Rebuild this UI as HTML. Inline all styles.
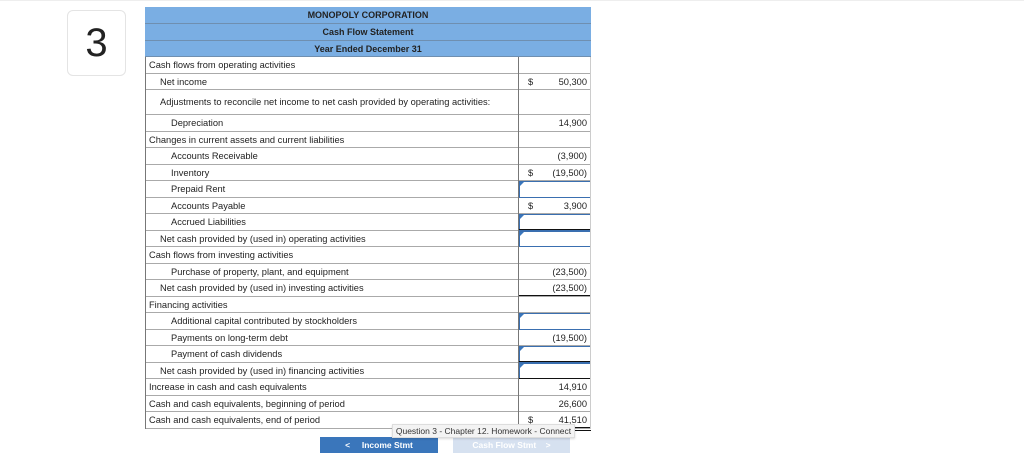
<!DOCTYPE html>
<html><head><meta charset="utf-8"><style>
body{margin:0;width:1024px;height:455px;background:#fff;font-family:"Liberation Sans",Arial,sans-serif;position:relative;overflow:hidden}
.a{position:absolute;box-sizing:border-box}
.t{font-size:9.5px;color:#222;white-space:nowrap}
</style></head><body>
<div class="a" style="left:0;top:0;width:1024px;height:1px;background:#eee"></div>
<div class="a" style="left:67px;top:10px;width:59px;height:66px;border:1px solid #e4e4e4;border-radius:6px;font-size:40px;color:#222;text-align:center;line-height:64px">3</div>
<div id="tbl" class="a" style="left:145px;top:7px;width:446px;height:421px"></div>
<div class="a t" style="left:392px;top:424px;width:183px;height:14px;background:#f3f3f3;border:1px solid #ddd;box-shadow:0 1px 2px rgba(0,0,0,0.15);font-size:8.5px;line-height:12px;text-align:center;color:#333;z-index:5">Question 3 - Chapter 12. Homework - Connect</div>
<div class="a" style="left:320px;top:437px;width:118px;height:16px;background:#3a76bb;color:#fff;font-size:8.5px;font-weight:bold;line-height:16px;text-align:center">&lt;&nbsp;&nbsp;&nbsp;&nbsp; Income Stmt</div>
<div class="a" style="left:453px;top:437px;width:117px;height:16px;background:#d6e1f0;color:#fff;font-size:8.5px;font-weight:bold;line-height:16px;text-align:center">Cash Flow Stmt &nbsp;&nbsp;&nbsp;&gt;</div>
<script>
const headers=["MONOPOLY CORPORATION","Cash Flow Statement","Year Ended December 31"];
const labels=["Cash flows from operating activities","Net income","Adjustments to reconcile net income to net cash provided by operating activities:","Depreciation","Changes in current assets and current liabilities","Accounts Receivable","Inventory","Prepaid Rent","Accounts Payable","Accrued Liabilities","Net cash provided by (used in) operating activities","Cash flows from investing activities","Purchase of property, plant, and equipment","Net cash provided by (used in) investing activities","Financing activities","Additional capital contributed by stockholders","Payments on long-term debt","Payment of cash dividends","Net cash provided by (used in) financing activities","Increase in cash and cash equivalents","Cash and cash equivalents, beginning of period","Cash and cash equivalents, end of period"];
const levels=[0,1,1,2,0,2,2,2,2,2,1,0,2,1,0,2,2,2,1,0,0,0];
const amounts=["","50,300","","14,900","","(3,900)","(19,500)","","3,900","","","","(23,500)","(23,500)","","","(19,500)","","","14,910","26,600","41,510"];
const dollars=[0,1,0,0,0,0,1,0,1,0,0,0,0,0,0,0,0,0,0,0,0,1];
const inputs=[0,0,0,0,0,0,0,1,0,1,1,0,0,0,0,1,0,1,1,0,0,0];
const rulesBelow=[0,0,0,0,0,0,0,0,0,1,0,0,0,1,0,0,0,1,1,0,0,2];
const tbl=document.getElementById('tbl');
const W=446,DIV=373;
let y=0;
headers.forEach((h,i)=>{
  const d=document.createElement('div');
  
  
  d.className='a t';
  d.style.cssText=`left:0;top:${y}px;width:${W}px;height:${i==0?17:16.5}px;background:#7aaee3;border-bottom:1px solid #6f8fb0;text-align:center;font-weight:bold;line-height:17px;font-size:9px`;
  d.textContent=h;tbl.appendChild(d);y+=(i==0?17:16.5);
});
const top0=y;
labels.forEach((l,i)=>{
  const h=i==2?25:16.5;
  const r=document.createElement('div');
  
  
  r.className='a';
  r.style.cssText=`left:0;top:${y}px;width:${W}px;height:${h}px;border-bottom:1px solid #aaa`;
  const t=document.createElement('div');
  
  
  t.className='a t';
  t.style.cssText=`left:${4+levels[i]*11}px;top:0;line-height:${h}px;font-size:9.3px`;
  t.textContent=l;r.appendChild(t);
  if(inputs[i]){
    const b=document.createElement('div');
    
    
    b.className='a';
    b.style.cssText=`left:${DIV+1}px;top:0;width:${W-DIV-1}px;height:${h}px;border:1.5px solid #3a6fb0;background:#fff`;
    const m=document.createElement('div');m.className='a';
    m.style.cssText='left:0;top:0;width:0;height:0;border-left:4px solid #3a76bb;border-bottom:4px solid transparent';
    b.appendChild(m);r.appendChild(b);
  }
  if(amounts[i]){
    const a=document.createElement('div');
    
    
    a.className='a t';
    a.style.cssText=`right:4px;top:0;line-height:${h}px;font-size:9.3px`;
    a.textContent=amounts[i];r.appendChild(a);
  }
  if(dollars[i]){
    const s=document.createElement('div');
    
    
    s.className='a t';
    s.style.cssText=`left:${DIV+10}px;top:0;line-height:${h}px;font-size:9.3px`;
    s.textContent='$';r.appendChild(s);
  }
  if(rulesBelow[i]){
    const u=document.createElement('div');
    
    
    u.className='a';
    u.style.cssText=`left:${DIV}px;top:${h-1.5}px;width:${W-DIV}px;height:${rulesBelow[i]==2?4:2}px;border-top:1.5px solid #111;${rulesBelow[i]==2?'border-bottom:1px solid #111;':''}`;
    r.appendChild(u);
  }
  tbl.appendChild(r);y+=h;
});
[[0,'left'],[DIV,'div'],[W-1,'right']].forEach(([x,n])=>{
  const v=document.createElement('div');
  
  
  v.className='a';
  v.style.cssText=`left:${x}px;top:${top0}px;width:1px;height:${y-top0}px;background:${n=='right'?'#ccc':'#777'}`;
  tbl.appendChild(v);
});
</script>
</body></html>
